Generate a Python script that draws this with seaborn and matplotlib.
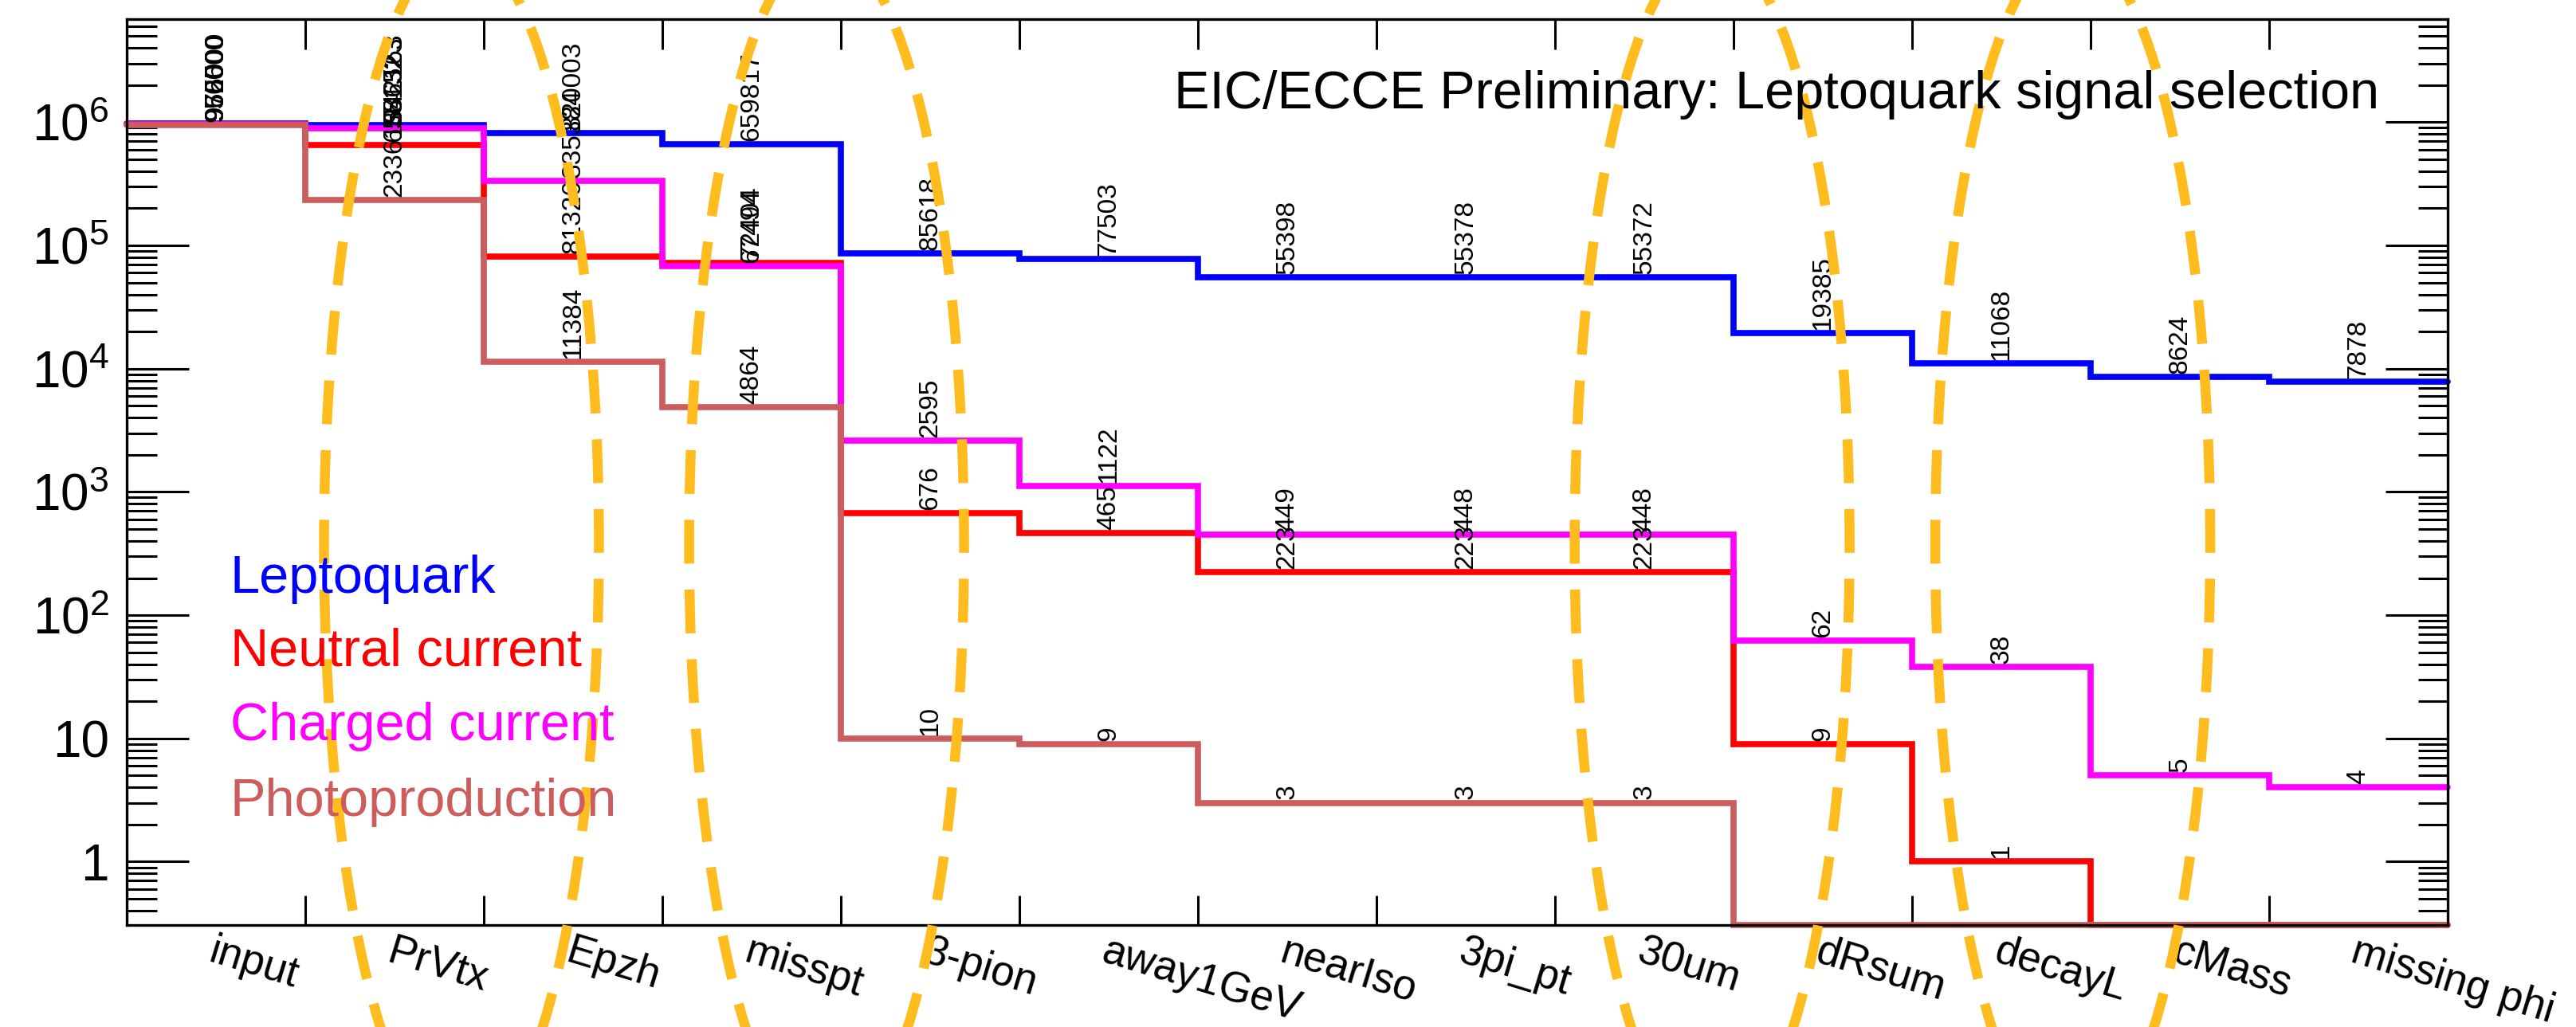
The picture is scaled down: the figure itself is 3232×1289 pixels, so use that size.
import numpy as np
import pandas as pd
import matplotlib
matplotlib.use("Agg")
import matplotlib.pyplot as plt
import matplotlib.patches as mpatches
import matplotlib.transforms as mtransforms
from matplotlib.ticker import FixedLocator, LogLocator, FuncFormatter, NullFormatter
import seaborn as sns

# ---- selection cut flow -------------------------------------------------
cuts = ["input", "PrVtx", "Epzh", "misspt", "3-pion", "away1GeV", "nearIso",
        "3pi_pt", "30um", "dRsum", "decayL", "cMass", "missing phi"]

leptoquark = [975000, 942163, 820003, 659817, 85618, 77503, 55398,
              55378, 55372, 19385, 11068, 8624, 7878]
neutral_current = [956000, 655132, 81326, 72404, 676, 465, 223,
                   223, 223, 9, 1, 0, 0]
charged_current = [962500, 886523, 335384, 67494, 2595, 1122, 449,
                   448, 448, 62, 38, 5, 4]
photoproduction = [950000, 233615, 11384, 4864, 10, 9, 3,
                   3, 3, 0, 0, 0, 0]

samples = ["Leptoquark", "Neutral current", "Charged current", "Photoproduction"]
sample_counts = [leptoquark, neutral_current, charged_current, photoproduction]
colors = ["#0000FF", "#FF0000", "#FF00FF", "#CD5C5C"]

title = "EIC/ECCE Preliminary: Leptoquark signal selection"

# cut boundaries highlighted with dashed rings (in bin units)
ring_centres = [1.875, 3.92, 8.88, 10.90]

YMIN, YMAX = 0.306, 6.86e6

# ---- style --------------------------------------------------------------
sns.set_style("white")
plt.rcParams["font.family"] = ["Liberation Sans", "DejaVu Sans"]
plt.rcParams["axes.linewidth"] = 2.4
plt.rcParams["xtick.color"] = "black"
plt.rcParams["ytick.color"] = "black"
plt.rcParams["xtick.labelcolor"] = "black"
plt.rcParams["ytick.labelcolor"] = "black"

fig = plt.figure(figsize=(32.32, 12.89), dpi=100)
ax = fig.add_axes([159 / 3232, 128 / 1289, (3071 - 159) / 3232, (1161 - 24) / 1289])

# ---- step histograms ----------------------------------------------------
frames = []
edges = np.arange(len(cuts) + 1)
for name, counts in zip(samples, sample_counts):
    c = np.asarray(counts, dtype=float)
    shown = np.where(c > 0, c, YMIN)          # empty bins sit on the floor
    frames.append(pd.DataFrame({"edge": edges,
                                "count": np.append(shown, shown[-1]),
                                "sample": name}))
df = pd.concat(frames, ignore_index=True)

sns.lineplot(data=df, x="edge", y="count", hue="sample", hue_order=samples,
             palette=colors, drawstyle="steps-post", estimator=None, sort=False,
             legend=False, linewidth=5.5, ax=ax)
for line in ax.get_lines():
    line.set_solid_joinstyle("miter")
    line.set_clip_on(False)

# bin contents written above each bin
for name, counts in zip(samples, sample_counts):
    for i, v in enumerate(counts):
        if v > 0:
            ax.annotate(f"{v}", xy=(i + 0.5, v), xytext=(0, 3),
                        textcoords="offset points", rotation=90,
                        ha="center", va="bottom", fontsize=24, color="black")

# ---- axes ---------------------------------------------------------------
ax.set_yscale("log")
ax.set_xlim(0, len(cuts))
ax.set_ylim(YMIN, YMAX)

ax.set_xticks(np.arange(len(cuts)) + 0.5, labels=cuts)
ax.set_xticks(np.arange(1, len(cuts)), minor=True)
ax.tick_params(axis="x", which="major", length=0, pad=6, labelsize=38,
               labelcolor="black")
ax.tick_params(axis="x", which="minor", length=27, width=2.2, direction="in",
               top=True, bottom=True, color="black")
for lab in ax.get_xticklabels():
    lab.set_rotation(-17)
    lab.set_ha("left")
    lab.set_va("top")
    lab.set_rotation_mode("anchor")

decades = [1, 10, 1e2, 1e3, 1e4, 1e5, 1e6]
ax.yaxis.set_major_locator(FixedLocator(decades))
ax.yaxis.set_minor_locator(LogLocator(base=10, subs=np.arange(2, 10), numticks=100))
ax.yaxis.set_minor_formatter(NullFormatter())


def decade_label(v, _pos):
    if v < 5:
        return "1"
    if v < 50:
        return "10"
    return r"$\mathregular{10^{%d}}$" % int(round(np.log10(v)))


ax.yaxis.set_major_formatter(FuncFormatter(decade_label))
ax.tick_params(axis="y", which="major", length=56, width=2.2, direction="in",
               left=True, right=True, labelsize=46, pad=16, color="black",
               labelcolor="black")
ax.tick_params(axis="y", which="minor", length=27, width=2.2, direction="in",
               left=True, right=True, color="black")
ax.set_xlabel("")
ax.set_ylabel("")
for s in ax.spines.values():
    s.set_visible(True)
    s.set_color("black")
    s.set_linewidth(2.4)

# ---- dashed rings around the key cuts -----------------------------------
ring_trans = mtransforms.blended_transform_factory(ax.transData, ax.transAxes)
for xc in ring_centres:
    ax.add_patch(mpatches.Ellipse((xc, 0.42), 1.54, 1.32, transform=ring_trans,
                                  fill=False, edgecolor="#FFBC1F", linewidth=9,
                                  linestyle=(0, (4.4, 2.6)), clip_on=False,
                                  zorder=10))
ax.set_xlim(0, len(cuts))
ax.set_ylim(YMIN, YMAX)

# ---- title and colour-coded legend --------------------------------------
fig.text(2985 / 3232, 1 - 136 / 1289, title, ha="right", va="baseline",
         fontsize=48, color="black")
legend_baselines = [744, 835, 929, 1024]
for name, col, yb in zip(samples, colors, legend_baselines):
    fig.text(289 / 3232, 1 - yb / 1289, name, color=col, fontsize=48,
             ha="left", va="baseline")

fig.savefig("out.png", dpi=100)
